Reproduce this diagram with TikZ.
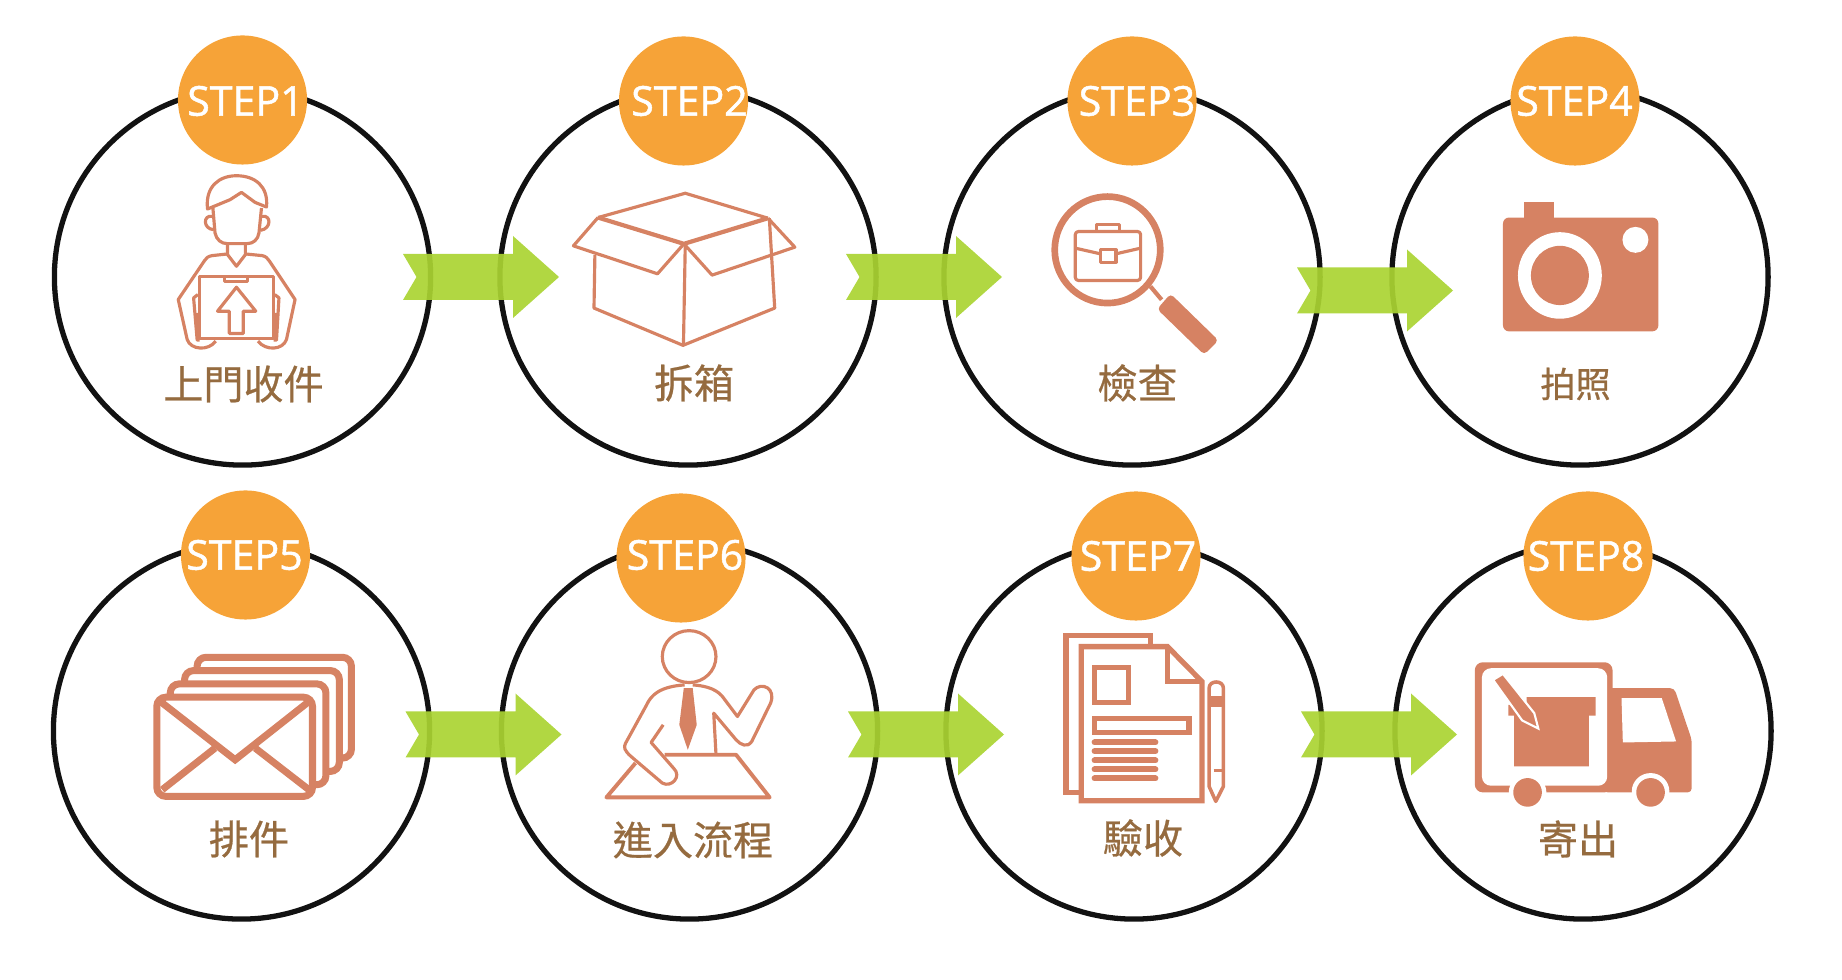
\documentclass[tikz,border=0pt]{standalone}
\usepackage{fontspec}
\setmainfont{Open Sans}
\newfontfamily\badgefont[FakeBold=1.2]{Open Sans}
\newfontfamily\cjk[FakeBold=0.6]{Noto Sans CJK TC}
\usetikzlibrary{calc}
\definecolor{badgeorange}{HTML}{F6A338}
\definecolor{arrowgreen}{HTML}{AAD432}
\definecolor{iconred}{HTML}{D68263}
\definecolor{captionbrown}{HTML}{956B3F}
\tikzset{
	ringnode/.style={circle, draw=black!93, line width=1.5pt, minimum size=3.76cm, inner sep=0pt},
	badgenode/.style={circle, fill=badgeorange, minimum size=1.29cm, inner sep=0pt},
	badgetext/.style={text=white, inner sep=0pt, font=\badgefont\fontsize{11.7}{13}\selectfont},
	captionnode/.style={text=captionbrown, inner sep=0pt, font=\cjk\fontsize{11.4}{13}\selectfont},
	arrowfill/.style={fill=arrowgreen, fill opacity=0.92},
	iconline/.style={draw=iconred, line width=0.9pt, line join=round},
	iconfill/.style={fill=iconred},
	viewA/.style={shift={(30,20)}, x=0.0035714cm, y=-0.0033333cm},
	viewB/.style={shift={(560,150)}, x=0.0044643cm, y=-0.0033333cm},
	viewC/.style={shift={(1280,150)}, x=0.0033333cm, y=-0.0033333cm},
	viewD/.style={shift={(130,620)}, x=0.0044643cm, y=-0.0033333cm},
	viewE/.style={shift={(1040,620)}, x=0.0044643cm, y=-0.0033333cm}
}
\def\greenarrow(#1){\fill[arrowfill, shift={(#1)}] (0, -23) -- (110, -23) -- (110, -41) -- (156, 0) -- (110, 41) -- (110, 23) -- (0, 23) -- (13.5, 0) -- cycle;}

\begin{document}
\begin{tikzpicture}[x=0.01cm, y=-0.01cm]
		\useasboundingbox (0, 0) rectangle (1842, 980);
		
		%%%%% RINGS %%%%%
		\node[ringnode] (ring1) at (242.5, 277) {};
		\node[ringnode] (ring2) at (688, 277) {};
		\node[ringnode] (ring3) at (1132, 277) {};
		\node[ringnode] (ring4) at (1580, 277) {};
		\node[ringnode] (ring5) at (241.5, 731) {};
		\node[ringnode] (ring6) at (689.5, 731) {};
		\node[ringnode] (ring7) at (1134, 731) {};
		\node[ringnode] (ring8) at (1583, 731) {};
		
		%%%%% BADGES %%%%%
		\node[badgenode] (badge1) at (242.5, 100) {};
		\node[badgenode] (badge2) at (683.5, 101) {};
		\node[badgenode] (badge3) at (1132, 101) {};
		\node[badgenode] (badge4) at (1575, 101) {};
		\node[badgenode] (badge5) at (245.5, 555) {};
		\node[badgenode] (badge6) at (681, 558) {};
		\node[badgenode] (badge7) at (1136, 556) {};
		\node[badgenode] (badge8) at (1588, 556) {};
		
		\node[badgetext] (label1) at (245.5, 101) {STEP1};
		\node[badgetext] (label2) at (689.5, 101) {STEP2};
		\node[badgetext] (label3) at (1137, 101) {STEP3};
		\node[badgetext] (label4) at (1574.5, 101) {STEP4};
		\node[badgetext] (label5) at (244.5, 555) {STEP5};
		\node[badgetext] (label6) at (685, 555) {STEP6};
		\node[badgetext] (label7) at (1138, 556) {STEP7};
		\node[badgetext] (label8) at (1586, 556) {STEP8};
		
		%%%%% CAPTIONS %%%%%
		\node[captionnode] (caption1) at (243.5, 384) {上門收件};
		\node[captionnode] (caption2) at (694, 383) {拆箱};
		\node[captionnode] (caption3) at (1137.5, 383) {檢查};
		\node[captionnode, font=\cjk\fontsize{10}{12}\selectfont] (caption4) at (1575.5, 384) {拍照};
		\node[captionnode] (caption5) at (249, 839) {排件};
		\node[captionnode] (caption6) at (693, 840) {進入流程};
		\node[captionnode] (caption7) at (1143, 838) {驗收};
		\node[captionnode] (caption8) at (1578, 839) {寄出};
		
		%%%%% ARROWS %%%%%
		\coordinate (tail1) at ($(ring1)+(160.5, 0)$);
		\coordinate (tail2) at ($(ring2)+(158, 0)$);
		\coordinate (tail3) at ($(ring3)+(165, 13.5)$);
		\coordinate (tail5) at ($(ring5)+(164, 3.5)$);
		\coordinate (tail6) at ($(ring6)+(158.5, 3.5)$);
		\coordinate (tail7) at ($(ring7)+(167, 3.5)$);
		\greenarrow(tail1)
		\greenarrow(tail2)
		\greenarrow(tail3)
		\greenarrow(tail5)
		\greenarrow(tail6)
		\greenarrow(tail7)
		
		%%%%% PERSON WITH PARCEL %%%%%
		\begin{scope}[viewA]
			\draw[iconline] (497, 568) .. controls (490, 500) and (530, 468) .. (578, 468) .. controls (630, 468) and (668, 500) .. (662, 562) -- (630, 548) -- (592, 518) -- (560, 540) -- cycle;
			\draw[iconline] (512, 565) -- (518, 640) .. controls (522, 660) and (535, 672) .. (552, 672) -- (608, 672) .. controls (625, 672) and (638, 660) .. (641, 640) -- (648, 565);
			\draw[iconline] (510, 590) .. controls (484, 585) and (484, 628) .. (514, 630);
			\draw[iconline] (650, 590) .. controls (676, 585) and (676, 628) .. (645, 632);
			\draw[iconline] (553, 672) -- (553, 705) -- (578, 740) -- (603, 705) -- (603, 672);
			\draw[iconline] (553, 703) -- (510, 708) .. controls (498, 710) and (492, 716) .. (488, 724) -- (415, 840) -- (440, 960) .. controls (450, 992) and (500, 995) .. (520, 965);
			\draw[iconline] (603, 703) -- (650, 708) .. controls (660, 710) and (665, 716) .. (670, 724) -- (742, 840) -- (718, 960) .. controls (708, 992) and (660, 995) .. (638, 965);
			\draw[iconline] (475, 770) rectangle (682, 958);
			\draw[iconline] (545, 770) -- (545, 785) -- (608, 785) -- (608, 770);
			\draw[iconline] (578, 803) -- (632, 875) -- (597, 875) -- (597, 942) -- (558, 942) -- (558, 875) -- (525, 875) -- cycle;
			\draw[iconline] (470, 825) -- (458, 835) -- (468, 962) -- (475, 962);
			\draw[iconline] (685, 825) -- (697, 835) -- (690, 962) -- (682, 962);
			\draw[iconline, line width=1.4pt] (469, 880) -- (472, 960);
			\draw[iconline, line width=1.4pt] (688, 880) -- (685, 960);
		\end{scope}
		
		%%%%% OPEN BOX AND MAGNIFIER %%%%%
		\begin{scope}[viewB]
			\draw[iconline] (85, 203) -- (280, 130) -- (465, 205);
			\draw[iconline, line width=1.2pt] (85, 203) -- (277, 282) -- (465, 205);
			\draw[iconline] (85, 203) -- (30, 288) -- (218, 372) -- (277, 282);
			\draw[iconline] (465, 205) -- (525, 292) -- (340, 376) -- (277, 282);
			\draw[iconline] (78, 315) -- (76, 475) -- (275, 587) -- (480, 475) -- (468, 205);
			\draw[iconline] (280, 285) -- (276, 585);
			
			\draw[iconred, line width=1.9pt] (1224, 300) ellipse (118 and 160);
			\draw[iconline, line width=1.2pt] (1320, 410) -- (1345, 450);
			\fill[iconfill, rounded corners=0.04cm] (1365, 432) -- (1472, 572) -- (1440, 615) -- (1335, 478) -- cycle;
			\draw[iconline, rounded corners=0.03cm] (1152, 245) rectangle (1298, 392);
			\draw[iconline] (1200, 245) -- (1200, 225) -- (1250, 225) -- (1250, 245);
			\draw[iconline] (1152, 295) -- (1208, 312);
			\draw[iconline] (1243, 312) -- (1298, 295);
			\draw[iconline] (1208, 300) rectangle (1243, 337);
		\end{scope}
		
		%%%%% CAMERA %%%%%
		\begin{scope}[viewC]
			\fill[iconfill, rounded corners=0.06cm] (670, 203) rectangle (1137, 545);
			\fill[iconfill] (732, 155) rectangle (824, 210);
			\fill[white] (841, 377) ellipse (126 and 130);
			\fill[iconfill] (841, 377) ellipse (87 and 89);
			\fill[white] (1068, 270) ellipse (39 and 39);
		\end{scope}
		
		%%%%% ENVELOPES AND MAN AT DESK %%%%%
		\begin{scope}[viewD]
			\draw[iconred, line width=2pt, rounded corners=0.09cm] (150, 150) -- (150, 112) -- (495, 112) -- (495, 415) -- (470, 415);
			\draw[iconred, line width=2pt, rounded corners=0.09cm] (122, 190) -- (122, 152) -- (468, 152) -- (468, 455) -- (440, 455);
			\draw[iconred, line width=2pt, rounded corners=0.09cm] (90, 228) -- (90, 192) -- (438, 192) -- (438, 495) -- (415, 495);
			\draw[iconred, fill=white, line width=2pt, rounded corners=0.09cm] (60, 232) rectangle (408, 530);
			\draw[iconred, line width=2pt] (68, 245) -- (235, 420) -- (400, 245);
			\draw[iconred, line width=2pt] (72, 510) -- (190, 385);
			\draw[iconred, line width=2pt] (280, 385) -- (400, 510);
			
			\draw[iconline] (1250, 110) ellipse (60 and 78);
			\draw[iconline] (1240, 195) .. controls (1185, 200) and (1165, 225) .. (1155, 255) -- (1108, 370) .. controls (1103, 382) and (1105, 392) .. (1120, 410) -- (1190, 490) .. controls (1210, 505) and (1235, 470) .. (1215, 445) -- (1165, 368) -- (1192, 315);
			\draw[iconline] (1258, 195) .. controls (1310, 200) and (1322, 225) .. (1330, 240) -- (1358, 290) -- (1395, 210) .. controls (1412, 185) and (1445, 205) .. (1432, 250) -- (1390, 365) .. controls (1380, 385) and (1365, 375) .. (1355, 360) -- (1305, 280) -- (1310, 403);
			\fill[iconfill] (1238, 205) -- (1258, 205) -- (1267, 315) -- (1247, 390) -- (1228, 315) -- cycle;
			\draw[iconline, line width=1.1pt] (1130, 430) -- (1065, 533) -- (1430, 533) -- (1355, 405) -- (1195, 405);
		\end{scope}
		
		%%%%% DOCUMENTS AND TRUCK %%%%%
		\begin{scope}[viewE]
			\draw[iconred, line width=1.5pt] (88, 518) -- (58, 518) -- (58, 47) -- (247, 47) -- (247, 78);
			\draw[iconred, line width=1.5pt] (92, 80) -- (285, 80) -- (362, 185) -- (362, 543) -- (92, 543) -- cycle;
			\draw[iconred, line width=1.5pt] (285, 80) -- (285, 185) -- (362, 185);
			\draw[iconred, line width=1.5pt] (122, 143) rectangle (198, 248);
			\draw[iconred, line width=1.5pt] (122, 295) rectangle (333, 338);
			\draw[iconred, line width=1.7pt, line cap=round] (122, 368) -- (258, 368);
			\draw[iconred, line width=1.7pt, line cap=round] (122, 394) -- (258, 394);
			\draw[iconred, line width=1.7pt, line cap=round] (122, 422) -- (258, 422);
			\draw[iconred, line width=1.7pt, line cap=round] (122, 449) -- (258, 449);
			\draw[iconred, line width=1.7pt, line cap=round] (122, 476) -- (258, 476);
			\draw[iconline, line width=1pt] (378, 205) .. controls (378, 180) and (410, 180) .. (410, 205) -- (410, 500) -- (393, 545) -- (378, 500) -- cycle;
			\fill[iconfill] (378, 228) rectangle (410, 262);
			\draw[iconline] (388, 453) -- (410, 453);
			
			\fill[iconfill, rounded corners=0.08cm] (972, 127) -- (1280, 127) -- (1280, 518) -- (972, 518) -- cycle;
			\fill[iconfill, rounded corners=0.04cm] (1260, 205) -- (1418, 205) -- (1457, 360) -- (1457, 518) -- (1260, 518) -- cycle;
			\fill[white, rounded corners=0.09cm] (988, 145) rectangle (1268, 498);
			\fill[white] (1300, 235) -- (1390, 235) -- (1422, 365) -- (1303, 368) -- cycle;
			\fill[iconfill] (1088, 232) -- (1242, 232) -- (1242, 287) -- (1227, 287) -- (1227, 440) -- (1060, 440) -- (1060, 287) -- (1047, 287) -- (1047, 255) -- (1088, 255) -- cycle;
			\draw[white, fill=iconred, line width=0.6pt] (1013, 180) -- (1035, 162) -- (1105, 280) -- (1114, 326) -- (1078, 302) -- cycle;
			\fill[white] (1090, 518) ellipse (42 and 55);
			\fill[iconfill] (1090, 518) ellipse (32 and 43);
			\fill[white] (1365, 515) ellipse (42 and 55);
			\fill[iconfill] (1365, 518) ellipse (32 and 43);
		\end{scope}
	\end{tikzpicture}
\end{document}
